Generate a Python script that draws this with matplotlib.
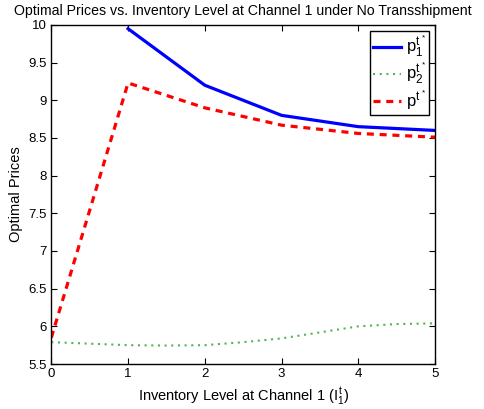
import matplotlib
matplotlib.use('Agg')
import matplotlib.pyplot as plt

plt.rcParams['font.family'] = ['Liberation Sans', 'DejaVu Sans']
plt.rcParams['mathtext.fontset'] = 'custom'
plt.rcParams['mathtext.rm'] = 'Liberation Sans'
plt.rcParams['mathtext.it'] = 'Liberation Sans'

# inventory levels and optimal prices
inv_p1 = [1, 2, 3, 4, 5]
price_p1 = [9.95, 9.20, 8.80, 8.65, 8.60]

inv_p2 = [0, 0.5, 1, 1.5, 2, 2.5, 3, 3.5, 4, 4.5, 5]
price_p2 = [5.79, 5.77, 5.75, 5.745, 5.75, 5.79, 5.84, 5.92, 6.0, 6.03, 6.04]

inv_p = [0, 1, 2, 3, 4, 5]
price_p = [5.85, 9.23, 8.90, 8.67, 8.56, 8.51]

labels = [r'$p_1^{t^*}$', r'$p_2^{t^*}$', r'$p^{t^*}$']

fig = plt.figure(figsize=(4.84, 4.09), dpi=100)
ax = fig.add_axes([0.106, 0.110, 0.793, 0.829])

ax.plot(inv_p1, price_p1, color='#0000ff', lw=2.3, label=labels[0])
ax.plot(inv_p2, price_p2, color='#55b455', lw=1.5, ls=(0, (1, 2.2)), label=labels[1])
ax.plot(inv_p, price_p, color='#ff0000', lw=2.3, ls=(0, (2.2, 1.8)), label=labels[2])

ax.set_xlim(0, 5)
ax.set_ylim(5.5, 10)
ax.set_xticks([0, 1, 2, 3, 4, 5])
ax.set_yticks([5.5, 6, 6.5, 7, 7.5, 8, 8.5, 9, 9.5, 10])
ax.set_yticklabels(['5.5', '6', '6.5', '7', '7.5', '8', '8.5', '9', '9.5', '10'])
ax.tick_params(direction='in', top=True, right=True, length=4, width=0.8, labelsize=9.5, pad=3)
for s in ax.spines.values():
    s.set_linewidth(1.0)

ax.set_title('Optimal Prices vs. Inventory Level at Channel 1 under No Transshipment',
             fontsize=10.2, pad=7)
ax.set_xlabel(r'Inventory Level at Channel 1 ($I_1^t$)', fontsize=10.5, labelpad=4)
ax.set_ylabel('Optimal Prices', fontsize=10.5, labelpad=4)

leg = ax.legend(loc='upper right', fontsize=12, fancybox=False, edgecolor='black',
                framealpha=1, handlelength=1.7, borderaxespad=0.35, labelspacing=0.12,
                handletextpad=0.25, borderpad=0.2)
leg.get_frame().set_linewidth(1.0)

fig.savefig('out.png', dpi=100)
